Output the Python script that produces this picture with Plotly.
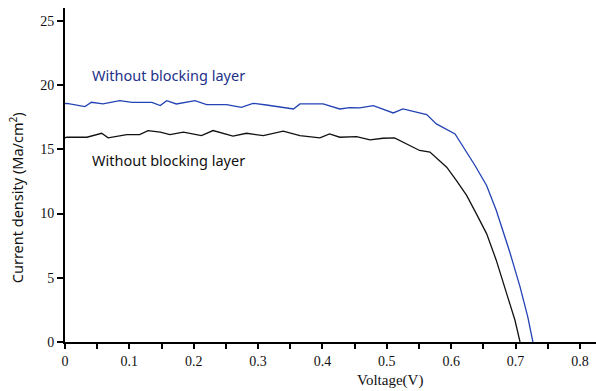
import plotly.graph_objects as go

# Blue curve (upper)
v_blue = [0.0, 0.003, 0.031, 0.041, 0.059, 0.085, 0.104, 0.135, 0.148, 0.158, 0.173, 0.202, 0.220,
          0.251, 0.274, 0.292, 0.313, 0.355, 0.365, 0.401, 0.427, 0.4425, 0.458, 0.479, 0.510, 0.525,
          0.562, 0.577, 0.606, 0.621, 0.637, 0.655, 0.670, 0.691, 0.707, 0.719, 0.727]
j_blue = [18.55, 18.58, 18.32, 18.66, 18.53, 18.79, 18.66, 18.66, 18.40, 18.79, 18.53, 18.79, 18.48,
          18.48, 18.27, 18.58, 18.45, 18.14, 18.53, 18.53, 18.14, 18.25, 18.22, 18.40, 17.83, 18.14,
          17.70, 16.98, 16.20, 15.04, 13.74, 12.19, 10.25, 7.01, 4.29, 1.96, 0.0]

# Black curve (lower)
v_black = [0.0, 0.003, 0.034, 0.057, 0.067, 0.096, 0.116, 0.129, 0.148, 0.163, 0.184, 0.212, 0.230,
           0.251, 0.261, 0.282, 0.308, 0.339, 0.365, 0.396, 0.411, 0.427, 0.4425, 0.453, 0.474, 0.494,
           0.512, 0.525, 0.551, 0.567, 0.593, 0.608, 0.624, 0.639, 0.655, 0.670, 0.686, 0.699, 0.707]
j_black = [15.90, 15.94, 15.94, 16.25, 15.89, 16.15, 16.15, 16.46, 16.33, 16.15, 16.33, 16.07, 16.46,
           16.20, 16.02, 16.25, 16.07, 16.41, 16.07, 15.89, 16.20, 15.94, 15.99, 15.99, 15.73, 15.86,
           15.89, 15.55, 14.91, 14.78, 13.61, 12.58, 11.41, 9.99, 8.44, 6.37, 3.78, 1.71, 0.0]

x_ticks = [0, 0.1, 0.2, 0.3, 0.4, 0.5, 0.6, 0.7, 0.8]
y_ticks = [0, 5, 10, 15, 20, 25]

label_blue = "Without blocking layer"
label_black = "Without blocking layer"

BLUE_LINE = "#2343b4"
BLUE_TEXT = "#22318a"
SERIF = "Liberation Serif, Times New Roman, serif"
SANS = "Noto Sans, DejaVu Sans, sans-serif"

fig = go.Figure()
fig.add_trace(go.Scatter(x=v_blue, y=j_blue, mode="lines",
                         line=dict(color=BLUE_LINE, width=1.3), showlegend=False))
fig.add_trace(go.Scatter(x=v_black, y=j_black, mode="lines",
                         line=dict(color="#111111", width=1.3), showlegend=False))

fig.add_annotation(x=0.039, y=20.77, text=label_blue, showarrow=False, xanchor="left", yanchor="middle",
                   font=dict(family=SANS, size=14.5, color=BLUE_TEXT))
fig.add_annotation(x=0.039, y=14.17, text=label_black, showarrow=False, xanchor="left", yanchor="middle",
                   font=dict(family=SANS, size=14.5, color="#111111"))

fig.add_annotation(xref="x", yref="paper", x=0.505, y=-0.114, text="Voltage(V)", showarrow=False,
                   xanchor="center", yanchor="middle",
                   font=dict(family=SERIF, size=15, color="#111111"))
fig.add_annotation(xref="paper", yref="paper", x=-0.092, y=0.431, text="Current density (Ma/cm<sup>2</sup>)",
                   textangle=-90, showarrow=False, xanchor="center", yanchor="middle",
                   font=dict(family=SANS, size=14.5, color="#111111"))

fig.update_xaxes(range=[0, 0.825], tickvals=x_ticks, ticktext=[str(t) for t in x_ticks],
                 showline=True, linecolor="black", linewidth=2, ticks="outside", ticklen=5,
                 tickwidth=2, tickcolor="black", showgrid=False, zeroline=False, automargin=False,
                 tickfont=dict(family=SERIF, size=14, color="#111111"),
                 minor=dict(dtick=0.05, tick0=0, ticks="outside", ticklen=5, tickwidth=2, tickcolor="black"))
fig.update_yaxes(range=[0, 26], tickvals=y_ticks, ticktext=[str(t) for t in y_ticks],
                 showline=True, linecolor="black", linewidth=2, ticks="outside", ticklen=6,
                 tickwidth=2, tickcolor="black", showgrid=False, zeroline=False, automargin=False,
                 tickfont=dict(family=SERIF, size=14, color="#111111"))

fig.update_layout(width=596, height=391, margin=dict(l=65, r=0, t=8, b=49, autoexpand=False),
                  plot_bgcolor="white", paper_bgcolor="white")

fig.write_html("out.html", config={"displayModeBar": False},
               post_script="document.body.style.margin='0';")
